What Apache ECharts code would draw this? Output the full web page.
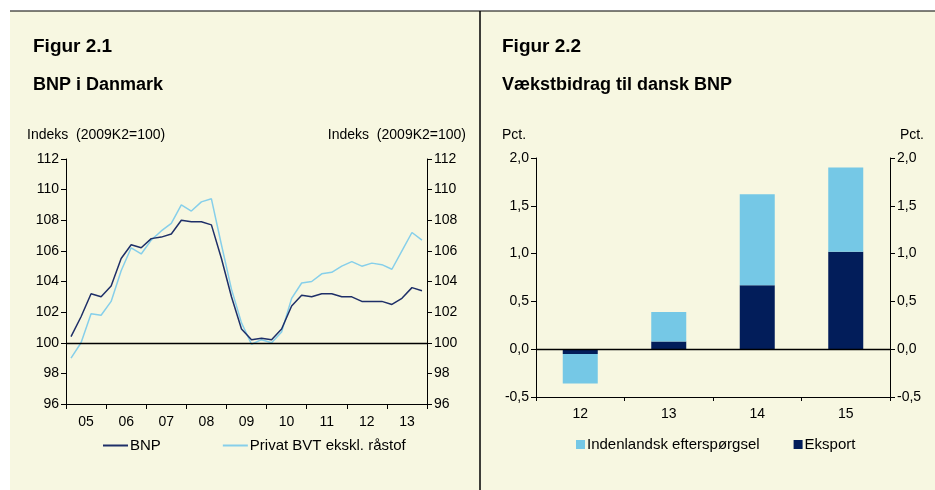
<!DOCTYPE html>
<html>
<head>
<meta charset="utf-8">
<script src="https://cdn.jsdelivr.net/npm/echarts@6/dist/echarts.min.js"></script>
<style>
html, body { margin: 0; padding: 0; background: #fff; }
#chart { width: 935px; height: 490px; }
</style>
</head>
<body>
<div id="chart"></div>
<script>
// Figur 2.1 - kvartaler 2005K1 - 2013K4
const quarters = ['05K1','05K2','05K3','05K4','06K1','06K2','06K3','06K4',
  '07K1','07K2','07K3','07K4','08K1','08K2','08K3','08K4',
  '09K1','09K2','09K3','09K4','10K1','10K2','10K3','10K4',
  '11K1','11K2','11K3','11K4','12K1','12K2','12K3','12K4',
  '13K1','13K2','13K3','13K4'];
const years = ['05','06','07','08','09','10','11','12','13'];
const bnp = [100.4, 101.7, 103.2, 103.0, 103.7, 105.5, 106.4, 106.2,
  106.8, 106.9, 107.1, 108.0, 107.9, 107.9, 107.7, 105.5,
  103.0, 100.9, 100.2, 100.3, 100.2, 100.9, 102.4, 103.1,
  103.0, 103.2, 103.2, 103.0, 103.0, 102.7, 102.7, 102.7,
  102.5, 102.9, 103.6, 103.4];
const privatBvt = [99.0, 100.0, 101.9, 101.8, 102.7, 104.7, 106.2, 105.8,
  106.7, 107.3, 107.8, 109.0, 108.6, 109.2, 109.4, 106.4,
  103.5, 101.3, 99.9, 100.2, 100.0, 100.7, 102.9, 103.9,
  104.0, 104.5, 104.6, 105.0, 105.3, 105.0, 105.2, 105.1,
  104.8, 106.0, 107.2, 106.7];

// Figur 2.2 - vækstbidrag, pct.
const aar = ['12','13','14','15'];
const eksport = [-0.05, 0.08, 0.67, 1.02];
const indenlandsk = [-0.31, 0.31, 0.95, 0.88];

const FONT = 'Liberation Sans, Arial, sans-serif';
const cream = '#F7F7E1';

function pctFmt(v) {
  return v.toFixed(1).replace('.', ',');
}

function yAxisOf(grid, pos, min, max, step, fmt) {
  return {
    type: 'value', gridIndex: grid, position: pos,
    min: min, max: max, interval: step,
    axisLine: { show: true, lineStyle: { color: '#000', width: 1 } },
    axisTick: { show: true, length: 5, lineStyle: { color: '#000' } },
    axisLabel: { color: '#000', fontSize: 14, fontFamily: FONT, margin: 7, formatter: fmt },
    splitLine: { show: false }
  };
}

function txt(size, bold) {
  return { fontSize: size, fontWeight: bold ? 'bold' : 'normal', color: '#000', fontFamily: FONT };
}

const myChart = echarts.init(document.getElementById('chart'));

const option = {
  animation: false,
  backgroundColor: '#fff',
  textStyle: { fontFamily: FONT },
  graphic: [
    { type: 'rect', z: -10, shape: { x: 10, y: 11, width: 925, height: 479 }, style: { fill: cream } },
    { type: 'line', z: -5, shape: { x1: 10, y1: 11, x2: 935, y2: 11 }, style: { stroke: '#000', lineWidth: 1.2 } },
    { type: 'line', z: -5, shape: { x1: 480, y1: 11, x2: 480, y2: 490 }, style: { stroke: '#000', lineWidth: 1.5 } }
  ],
  title: [
    { text: 'Figur 2.1', left: 28, top: 32, textStyle: txt(19, true) },
    { text: 'BNP i Danmark', left: 28, top: 71, textStyle: txt(18, true) },
    { text: 'Indeks  (2009K2=100)', left: 22, top: 123, textStyle: txt(14) },
    { text: 'Indeks  (2009K2=100)', right: 935 - 471, top: 123, textStyle: txt(14) },
    { text: 'Figur 2.2', left: 497, top: 32, textStyle: txt(19, true) },
    { text: 'Vækstbidrag til dansk BNP', left: 497, top: 71, textStyle: txt(18, true) },
    { text: 'Pct.', left: 497, top: 123, textStyle: txt(14) },
    { text: 'Pct.', right: 6, top: 123, textStyle: txt(14) }
  ],
  legend: [
    {
      left: 98, top: 433, itemGap: 62, itemWidth: 25, itemHeight: 2, icon: 'rect',
      textStyle: { fontSize: 15, color: '#000', fontFamily: FONT, padding: [0, 0, 0, -3] },
      data: ['BNP', 'Privat BVT ekskl. råstof']
    },
    {
      left: 571, top: 432, itemGap: 34, itemWidth: 9, itemHeight: 9, icon: 'rect',
      textStyle: { fontSize: 15, color: '#000', fontFamily: FONT, padding: [0, 0, 0, -3] },
      data: ['Indenlandsk efterspørgsel', 'Eksport']
    }
  ],
  grid: [
    { left: 66, right: 935 - 427, top: 159, bottom: 490 - 404 },
    { left: 536, right: 935 - 890, top: 158, bottom: 490 - 397 }
  ],
  xAxis: [
    {
      type: 'category', gridIndex: 0, data: quarters, position: 'bottom',
      axisLine: { show: false }, axisTick: { show: false }, axisLabel: { show: false }
    },
    {
      type: 'category', gridIndex: 0, data: years, position: 'bottom', boundaryGap: true,
      axisLine: { show: true, onZero: false, lineStyle: { color: '#000', width: 1 } },
      axisTick: { show: true, length: 5, lineStyle: { color: '#000' } },
      axisLabel: { color: '#000', fontSize: 14, fontFamily: FONT, margin: 11 }
    },
    {
      type: 'category', gridIndex: 1, data: aar, position: 'bottom',
      axisLine: { show: true, onZero: false, lineStyle: { color: '#000', width: 1 } },
      axisTick: { show: true, length: 4, lineStyle: { color: '#000' } },
      axisLabel: { color: '#000', fontSize: 14, fontFamily: FONT, margin: 10 }
    }
  ],
  yAxis: [
    yAxisOf(0, 'left', 96, 112, 2),
    yAxisOf(0, 'right', 96, 112, 2),
    yAxisOf(1, 'left', -0.5, 2, 0.5, pctFmt),
    yAxisOf(1, 'right', -0.5, 2, 0.5, pctFmt)
  ],
  series: [
    {
      name: 'BNP', type: 'line', xAxisIndex: 0, yAxisIndex: 0, data: bnp,
      showSymbol: false, symbol: 'none', color: '#1E2F68',
      lineStyle: { width: 1.5, color: '#1E2F68' }, z: 4,
      markLine: {
        silent: true, symbol: 'none', label: { show: false },
        lineStyle: { color: '#000', width: 1.3, type: 'solid' },
        data: [{ yAxis: 100 }]
      }
    },
    {
      name: 'Privat BVT ekskl. råstof', type: 'line', xAxisIndex: 0, yAxisIndex: 0, data: privatBvt,
      showSymbol: false, symbol: 'none', color: '#86CFEA',
      lineStyle: { width: 1.5, color: '#86CFEA' }, z: 3
    },
    {
      name: 'Eksport', type: 'bar', xAxisIndex: 2, yAxisIndex: 2, stack: 'bidrag', data: eksport,
      barWidth: 35, color: '#021D5A', itemStyle: { color: '#021D5A' }
    },
    {
      name: 'Indenlandsk efterspørgsel', type: 'bar', xAxisIndex: 2, yAxisIndex: 2, stack: 'bidrag', data: indenlandsk,
      barWidth: 35, color: '#75C8E6', itemStyle: { color: '#75C8E6' },
      markLine: {
        silent: true, symbol: 'none', label: { show: false },
        lineStyle: { color: '#000', width: 1.3, type: 'solid' },
        data: [{ yAxis: 0 }]
      }
    }
  ]
};

myChart.setOption(option);
</script>
</body>
</html>
